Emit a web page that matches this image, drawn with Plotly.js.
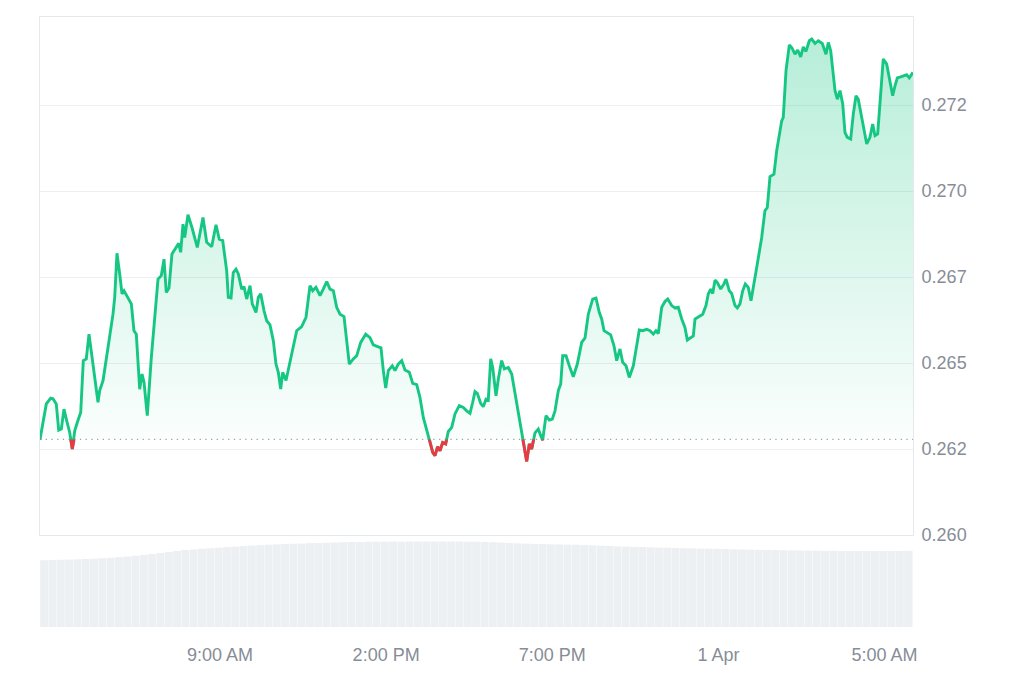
<!DOCTYPE html>
<html>
<head>
<meta charset="utf-8">
<script src="https://cdn.plot.ly/plotly-3.0.1.min.js"></script>
<style>
  html, body { margin: 0; padding: 0; background: #ffffff; }
  #chart { width: 1024px; height: 683px; }
</style>
</head>
<body>
<div id="chart"></div>
<script>
// ---- Data ----
const startTime = Date.UTC(2025, 2, 31, 3, 35);   // 31 Mar, 3:35 AM (left edge)
const endMinute = 1576.3;                          // right edge, minutes after start

// minutes after start for each price sample
const priceMinutes = [0,11.4,19.3,23.5,29.4,33.8,38.5,43.3,47.5,53.6,
58.3,62.7,67.3,73.5,78.2,83.6,88.5,92.6,98.8,104.7,
107.8,113.8,122.8,131.8,134.9,139.0,143.9,148.1,151.7,158.9,
164.9,169.7,173.9,180.0,184.2,187.8,193.7,201.0,207.1,213.1,
219.0,223.9,228.0,232.9,238.3,246.1,250.4,254.0,258.2,261.3,
267.2,274.4,284.0,294.3,301.0,310.0,317.8,323.7,329.9,337.1,
340.0,344.9,349.0,353.9,358.1,364.2,368.3,373.2,379.2,383.3,
390.0,394.2,398.5,404.5,409.3,415.3,421.3,426.1,430.3,434.6,
438.2,444.2,451.4,463.5,472.5,480.3,487.5,492.4,498.3,505.6,
511.5,517.7,523.6,529.6,535.7,541.7,548.9,558.5,565.7,571.8,
579.1,588.1,595.8,601.8,610.8,615.7,619.9,624.2,628.9,636.1,
641.0,646.9,653.1,659.0,666.8,673.0,680.2,686.1,692.1,698.2,
704.2,709.1,713.2,718.0,722.2,727.1,732.5,737.2,743.4,749.3,
757.1,764.3,770.4,776.4,781.3,785.4,789.6,795.7,800.4,805.3,
809.4,813.8,817.4,823.4,827.5,833.6,838.4,845.6,851.7,857.7,
863.6,870.8,875.7,878.8,883.5,887.8,893.8,899.7,904.1,907.7,
913.6,919.6,925.0,929.9,935.9,940.2,943.8,949.8,955.7,962.9,
970.2,978.1,984.1,990.0,998.0,1003.9,1009.9,1014.2,1018.4,1024.3,
1030.4,1036.4,1041.3,1047.2,1052.1,1058.1,1064.0,1071.3,1077.4,1082.1,
1088.2,1095.5,1101.4,1107.4,1112.2,1116.4,1122.6,1128.5,1133.4,1140.6,
1146.6,1152.5,1158.7,1164.6,1168.8,1174.9,1179.6,1182.7,1188.6,1196.6,
1202.5,1206.7,1211.0,1214.6,1218.8,1223.0,1229.1,1235.0,1238.6,1244.6,
1248.9,1254.9,1259.1,1263.9,1268.8,1273.5,1278.9,1283.8,1294.1,1303.1,
1309.0,1313.2,1318.1,1325.3,1330.2,1334.9,1339.2,1342.1,1347.0,1353.0,
1357.8,1363.2,1368.1,1373.5,1378.2,1383.1,1389.1,1393.4,1399.4,1405.3,
1412.5,1419.2,1423.4,1427.7,1431.3,1435.5,1439.7,1444.5,1449.4,1453.5,
1457.7,1463.8,1468.5,1473.4,1477.5,1483.7,1492.7,1498.6,1503.5,1507.7,
1512.5,1517.9,1522.6,1528.8,1534.7,1539.6,1543.8,1548.0,1554.1,1560.0,
1564.9,1569.6,1576.3];

const prices = [0.26278,0.26381,0.26398,0.26396,0.26381,0.26305,0.26308,0.26366,0.26337,0.26298,
0.26250,0.26303,0.26327,0.26356,0.26507,0.26512,0.26584,0.26536,0.26468,0.26386,
0.26420,0.26449,0.26545,0.26642,0.26691,0.26819,0.26759,0.26701,0.26710,0.26691,
0.26672,0.26594,0.26584,0.26424,0.26468,0.26444,0.26347,0.26516,0.26623,0.26744,
0.26754,0.26802,0.26705,0.26718,0.26817,0.26836,0.26848,0.26822,0.26904,0.26865,
0.26931,0.26894,0.26836,0.26923,0.26851,0.26838,0.26902,0.26860,0.26856,0.26768,
0.26691,0.26689,0.26763,0.26773,0.26759,0.26715,0.26722,0.26686,0.26725,0.26672,
0.26647,0.26691,0.26701,0.26652,0.26623,0.26611,0.26565,0.26497,0.26473,0.26424,
0.26473,0.26449,0.26507,0.26594,0.26606,0.26633,0.26725,0.26710,0.26720,0.26696,
0.26715,0.26737,0.26715,0.26710,0.26662,0.26642,0.26635,0.26497,0.26512,0.26521,
0.26560,0.26584,0.26574,0.26553,0.26547,0.26544,0.26478,0.26427,0.26478,0.26492,
0.26478,0.26497,0.26507,0.26480,0.26473,0.26441,0.26437,0.26400,0.26342,0.26308,
0.26274,0.26240,0.26231,0.26257,0.26245,0.26269,0.26265,0.26301,0.26313,0.26352,
0.26376,0.26371,0.26361,0.26354,0.26386,0.26417,0.26412,0.26383,0.26373,0.26395,
0.26392,0.26512,0.26487,0.26405,0.26453,0.26507,0.26483,0.26487,0.26468,0.26410,
0.26352,0.26284,0.26245,0.26214,0.26265,0.26250,0.26297,0.26308,0.26289,0.26276,
0.26347,0.26334,0.26337,0.26361,0.26420,0.26439,0.26521,0.26521,0.26492,0.26460,
0.26497,0.26560,0.26573,0.26642,0.26686,0.26689,0.26647,0.26628,0.26594,0.26589,
0.26582,0.26550,0.26507,0.26541,0.26502,0.26492,0.26458,0.26492,0.26545,0.26596,
0.26594,0.26598,0.26594,0.26584,0.26594,0.26586,0.26662,0.26679,0.26686,0.26667,
0.26660,0.26662,0.26628,0.26603,0.26567,0.26573,0.26579,0.26628,0.26633,0.26642,
0.26667,0.26701,0.26715,0.26702,0.26741,0.26734,0.26715,0.26730,0.26744,0.26710,
0.26702,0.26667,0.26660,0.26672,0.26710,0.26730,0.26720,0.26681,0.26778,0.26865,
0.26943,0.26952,0.27042,0.27049,0.27117,0.27161,0.27204,0.27214,0.27350,0.27425,
0.27416,0.27398,0.27410,0.27390,0.27419,0.27406,0.27437,0.27442,0.27429,0.27437,
0.27429,0.27398,0.27432,0.27408,0.27359,0.27292,0.27267,0.27292,0.27253,0.27170,
0.27156,0.27151,0.27224,0.27277,0.27267,0.27214,0.27137,0.27156,0.27195,0.27161,
0.27166,0.27282,0.27384,0.27369,0.27321,0.27277,0.27306,0.27329,0.27332,0.27335,
0.27338,0.27329,0.27345];

// 15-minute volume bars (millions)
const volumeStepMinutes = 15;
const volumes = [100.2,100.5,100.9,101.1,101.6,102.0,102.4,103.3,103.9,104.8,
105.6,106.9,108.2,109.5,111.0,112.4,114.1,115.5,116.3,117.4,
118.2,119.0,119.9,120.6,121.5,122.1,122.8,123.4,124.0,124.5,
125.0,125.3,125.8,126.1,126.5,126.8,127.0,127.5,127.6,127.8,
127.9,128.0,128.1,128.0,128.2,128.3,128.1,128.2,128.4,128.3,
128.2,128.0,127.8,127.5,127.2,126.7,126.1,125.6,125.1,124.7,
124.4,124.1,123.9,123.6,123.4,123.0,122.6,122.0,121.5,121.0,
120.6,120.2,120.0,119.6,119.2,118.9,118.6,118.2,117.9,117.6,
117.4,117.2,117.0,116.6,116.3,116.0,115.8,115.6,115.4,115.2,
115.0,114.8,114.6,114.5,114.3,114.2,114.0,114.1,113.9,114.0,
114.1,114.0,113.9,114.1,114.2,114.0];

// axis ticks
const priceTickVals = [0.26, 0.2625, 0.265, 0.2675, 0.27, 0.2725];
const priceTickText = ['0.260', '0.262', '0.265', '0.267', '0.270', '0.272'];
const timeTickVals = ['2025-03-31 09:00', '2025-03-31 14:00', '2025-03-31 19:00', '2025-04-01 00:00', '2025-04-01 05:00'];
const timeTickText = ['9:00 AM', '2:00 PM', '7:00 PM', '1 Apr', '5:00 AM'];

// ---- Build ----
const MIN = 60000;
const priceX = priceMinutes.map(m => startTime + m * MIN);
const volX = volumes.map((v, i) => startTime + (i + 0.5) * volumeStepMinutes * MIN);
const xRange = [startTime, startTime + endMinute * MIN];
const baseline = prices[0];
const priceMax = Math.max(...prices);

const yLo = 0.26, yHi = 0.27506;
const volFrac = 0.1508;          // share of plot height given to the volume strip
const baseFrac = volFrac + (baseline - yLo) / (yHi - yLo) * (1 - volFrac);

const GREEN = '#16c784', RED = '#ea3943';
const FONT = 'Liberation Sans, Arial, sans-serif';
const TICKCOL = '#878d96';

const traces = [
  { // volume bars
    type: 'bar', x: volX, y: volumes, xaxis: 'x2', yaxis: 'y2',
    marker: { color: '#edf0f3', line: { width: 0 } },
    hoverinfo: 'skip', showlegend: false
  },
  { // baseline (opening price) dotted
    type: 'scatter', mode: 'lines', x: xRange, y: [baseline, baseline],
    xaxis: 'x', yaxis: 'y',
    line: { color: '#9ea4ab', width: 1.3, dash: '1.3px,4.4px' },
    hoverinfo: 'skip', showlegend: false
  },
  { // price line with gradient fill to baseline
    type: 'scatter', mode: 'lines', x: priceX, y: prices, xaxis: 'x', yaxis: 'y',
    line: { color: GREEN, width: 2.9, shape: 'linear' },
    fill: 'tonexty',
    fillgradient: {
      type: 'vertical', start: baseline, stop: priceMax,
      colorscale: [[0, 'rgba(22,199,132,0.02)'], [1, 'rgba(22,199,132,0.31)']]
    },
    hoverinfo: 'skip', showlegend: false
  },
  { // part below the baseline in red (clipped by its own axis domain)
    type: 'scatter', mode: 'lines', x: priceX, y: prices, xaxis: 'x', yaxis: 'y3',
    line: { color: RED, width: 2.9 },
    hoverinfo: 'skip', showlegend: false
  }
];

const layout = {
  width: 1024, height: 683,
  margin: { l: 40, r: 111, t: 17, b: 56, pad: 0 },
  paper_bgcolor: '#ffffff', plot_bgcolor: 'rgba(0,0,0,0)',
  font: { family: FONT, size: 18, color: TICKCOL },
  showlegend: false, hovermode: false, bargap: 0.04,
  xaxis: {
    type: 'date', range: xRange, domain: [0, 1], anchor: 'y',
    showticklabels: false, showgrid: false, zeroline: false, ticks: '',
    showline: true, mirror: true, linecolor: '#e6e9ec', linewidth: 1, fixedrange: true
  },
  yaxis: {
    domain: [volFrac, 1], range: [yLo, yHi], side: 'right', anchor: 'x',
    tickmode: 'array', tickvals: priceTickVals, ticktext: priceTickText,
    tickfont: { family: FONT, size: 18, color: TICKCOL },
    showgrid: true, gridcolor: '#eceef1', gridwidth: 1, zeroline: false, ticks: '',
    showline: true, mirror: true, linecolor: '#e6e9ec', linewidth: 1,
    ticklabelstandoff: 4, fixedrange: true
  },
  yaxis3: {
    domain: [volFrac, baseFrac], range: [yLo, baseline], anchor: 'x',
    visible: false, showgrid: false, zeroline: false, fixedrange: true
  },
  xaxis2: {
    type: 'date', range: xRange, domain: [0, 1], anchor: 'y2',
    tickmode: 'array', tickvals: timeTickVals, ticktext: timeTickText,
    tickfont: { family: FONT, size: 18, color: TICKCOL },
    showgrid: false, zeroline: false, showline: false, ticks: '',
    ticklabelstandoff: 15, fixedrange: true
  },
  yaxis2: {
    domain: [0, volFrac], range: [0, 138], anchor: 'x2',
    visible: false, showgrid: false, zeroline: false, fixedrange: true
  }
};

Plotly.newPlot('chart', traces, layout, { staticPlot: true, displayModeBar: false });
</script>
</body>
</html>
